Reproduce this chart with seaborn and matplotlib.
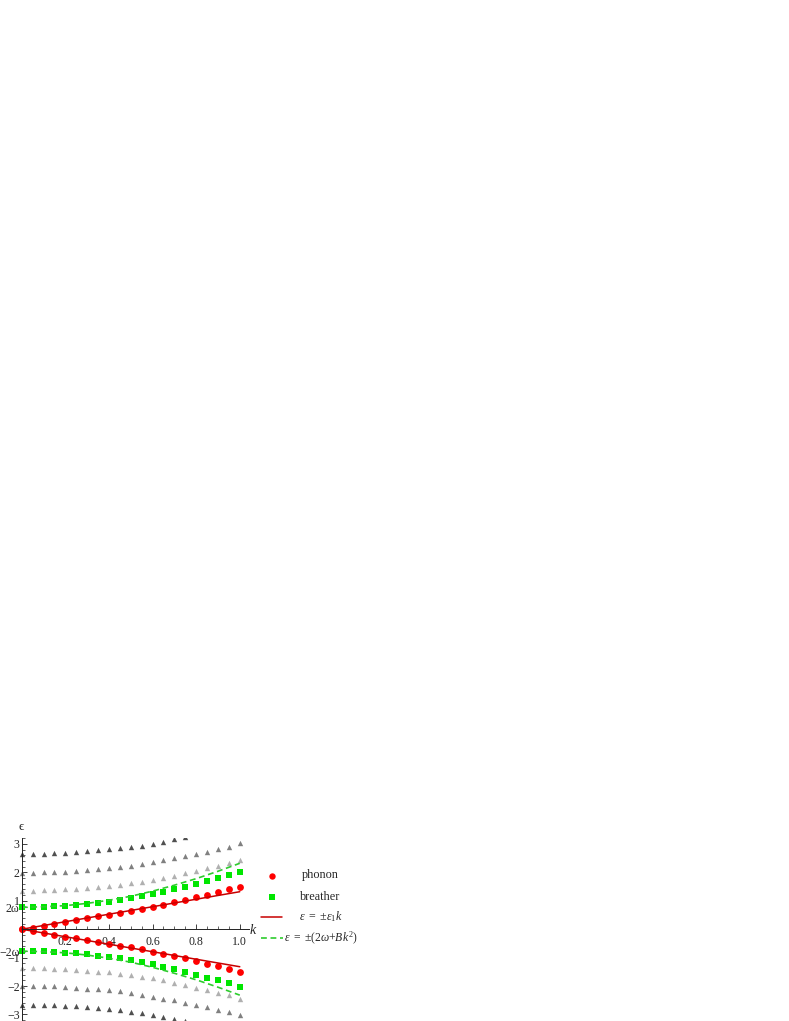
import pandas as pd
import matplotlib
matplotlib.use('Agg')
import matplotlib.pyplot as plt
from matplotlib.lines import Line2D
from matplotlib.ticker import MultipleLocator, FixedLocator
import seaborn as sns

# momentum grid and numerical spectrum (upper half, lower half is the mirror)
k = [0.0, 0.05, 0.1, 0.15, 0.2, 0.25, 0.3, 0.35, 0.4, 0.45, 0.5,
     0.55, 0.6, 0.65, 0.7, 0.75, 0.8, 0.85, 0.9, 0.95, 1.0]
phonon = [0.0, 0.06, 0.13, 0.20, 0.26, 0.32, 0.39, 0.46, 0.51, 0.58, 0.64,
          0.71, 0.79, 0.87, 0.95, 1.03, 1.12, 1.21, 1.30, 1.41, 1.50]
breather = [0.77, 0.77, 0.78, 0.80, 0.82, 0.85, 0.88, 0.93, 0.97, 1.03, 1.10,
            1.16, 1.23, 1.32, 1.41, 1.50, 1.60, 1.70, 1.79, 1.90, 2.03]
band_light = [1.36, 1.36, 1.37, 1.39, 1.41, 1.43, 1.46, 1.49, 1.52, 1.56, 1.61,
              1.67, 1.72, 1.79, 1.88, 1.97, 2.06, 2.14, 2.24, 2.33, 2.44]
band_mid = [1.99, 1.99, 2.00, 2.01, 2.03, 2.06, 2.09, 2.12, 2.15, 2.19, 2.24,
            2.30, 2.37, 2.44, 2.50, 2.58, 2.65, 2.73, 2.83, 2.91, 3.02]
band_dark = [2.65, 2.66, 2.66, 2.67, 2.69, 2.71, 2.75, 2.79, 2.82, 2.85, 2.90,
             2.94, 3.01, 3.08, 3.16, 3.23]

# analytic curves
line_k = [0.0, 1.0]
line_phonon = [0.0, 1.32]
curve_k = [0.0, 0.1, 0.2, 0.3, 0.4, 0.5, 0.6, 0.7, 0.8, 0.9, 1.0]
curve_breather = [0.77, 0.79, 0.83, 0.91, 1.02, 1.16, 1.34, 1.55, 1.78, 2.04, 2.32]

two_omega = 0.77
y_ticks = [-3, -2, -1, -two_omega, two_omega, 1, 2, 3]
y_labels = ['−3', '−2', '−1', '−2ω', '2ω', '1', '2', '3']
x_ticks = [0.2, 0.4, 0.6, 0.8, 1.0]
x_labels = ['0.2', '0.4', '0.6', '0.8', '1.0']

sns.set_style('white')
plt.rcParams['font.family'] = ['Liberation Serif', 'DejaVu Serif']
plt.rcParams['mathtext.fontset'] = 'custom'
plt.rcParams['mathtext.rm'] = 'Liberation Serif'
plt.rcParams['mathtext.it'] = 'Liberation Serif:italic'

W, H = 789, 1021
fig = plt.figure(figsize=(W / 100, H / 100), dpi=100)
ax = fig.add_axes([15.2 / W, 0, 233.3 / W, 182.7 / H])

def both(vals, kk):
    return pd.DataFrame({'k': list(kk) * 2, 'eps': list(vals) + [-v for v in vals]})

# gray higher bands
for vals, col in [(band_light, '#b0b0b0'), (band_mid, '#808080'), (band_dark, '#505050')]:
    sns.scatterplot(data=both(vals, k[:len(vals)]), x='k', y='eps', ax=ax, marker='^',
                    color=col, s=15, linewidth=0, legend=False)

sns.scatterplot(data=both(breather, k), x='k', y='eps', ax=ax, marker='s',
                color='#00e600', s=19, linewidth=0, legend=False)
sns.scatterplot(data=both(phonon, k), x='k', y='eps', ax=ax, marker='o',
                color='#ff0000', s=24, linewidth=0, legend=False)

for sgn in [1, -1]:
    sns.lineplot(x=line_k, y=[sgn * v for v in line_phonon], ax=ax, color='#c80000', lw=1.1)
    sns.lineplot(x=curve_k, y=[sgn * v for v in curve_breather], ax=ax, color='#2ecc2e',
                 lw=1.2, linestyle=(0, (3.5, 2.2)))

ax.set_xlim(-0.03, 1.04)
ax.set_ylim(-3.23, 3.2)
ax.set_xlabel('')
ax.set_ylabel('')
for s in ['top', 'right']:
    ax.spines[s].set_visible(False)
ax.spines['left'].set_position(('data', 0))
ax.spines['bottom'].set_position(('data', 0))
ax.spines['bottom'].set_bounds(0, 1.04)
for s in ['left', 'bottom']:
    ax.spines[s].set_color('#222222')
    ax.spines[s].set_linewidth(0.7)

ax.xaxis.set_major_locator(FixedLocator(x_ticks))
ax.set_xticklabels(x_labels)
ax.xaxis.set_minor_locator(MultipleLocator(0.05))
ax.yaxis.set_major_locator(FixedLocator(y_ticks))
ax.set_yticklabels(y_labels)
ax.yaxis.set_minor_locator(MultipleLocator(0.2))
ax.tick_params(which='major', direction='in', length=3.5, width=0.6, labelsize=8.6,
               color='#222222')
ax.tick_params(which='minor', direction='in', length=2, width=0.5, color='#222222')
ax.tick_params(axis='x', which='both', bottom=True, pad=5)
ax.tick_params(axis='y', which='both', left=True, pad=1.5)

# axis labels in Mathematica style
fig.text(21.5 / W, 1 - 827 / H, 'ϵ', fontsize=9.5, ha='center', va='center')
fig.text(253 / W, 1 - 930 / H, 'k', fontsize=10, style='italic', ha='center', va='center')

# legend on the right
def fy(py):
    return 1 - py / H

fig.add_artist(Line2D([271.7 / W], [fy(876)], marker='o', color='#ff0000', ms=4.6,
                      mew=0, transform=fig.transFigure))
fig.add_artist(Line2D([271.7 / W], [fy(896.7)], marker='s', color='#00e600', ms=4.0,
                      mew=0, transform=fig.transFigure))
fig.add_artist(Line2D([261 / W, 282 / W], [fy(917), fy(917)], color='#c80000', lw=1.1,
                      transform=fig.transFigure))
fig.add_artist(Line2D([261 / W, 283 / W], [fy(938), fy(938)], color='#2ecc2e', lw=1.2,
                      linestyle=(0, (3.5, 2.2)), transform=fig.transFigure))
fig.text(320 / W, fy(875), 'phonon', fontsize=8.8, ha='center', va='center')
fig.text(320 / W, fy(896.5), 'breather', fontsize=8.8, ha='center', va='center')
fig.text(320.5 / W, fy(917), r'$\epsilon\ {=}\ {\pm}\epsilon_1k$', fontsize=8.6,
         ha='center', va='center')
fig.text(320.5 / W, fy(938), r'$\epsilon\ {=}\ {\pm}(2\omega{+}Bk^2)$', fontsize=8.4,
         ha='center', va='center')

fig.savefig('out.png', dpi=100)
